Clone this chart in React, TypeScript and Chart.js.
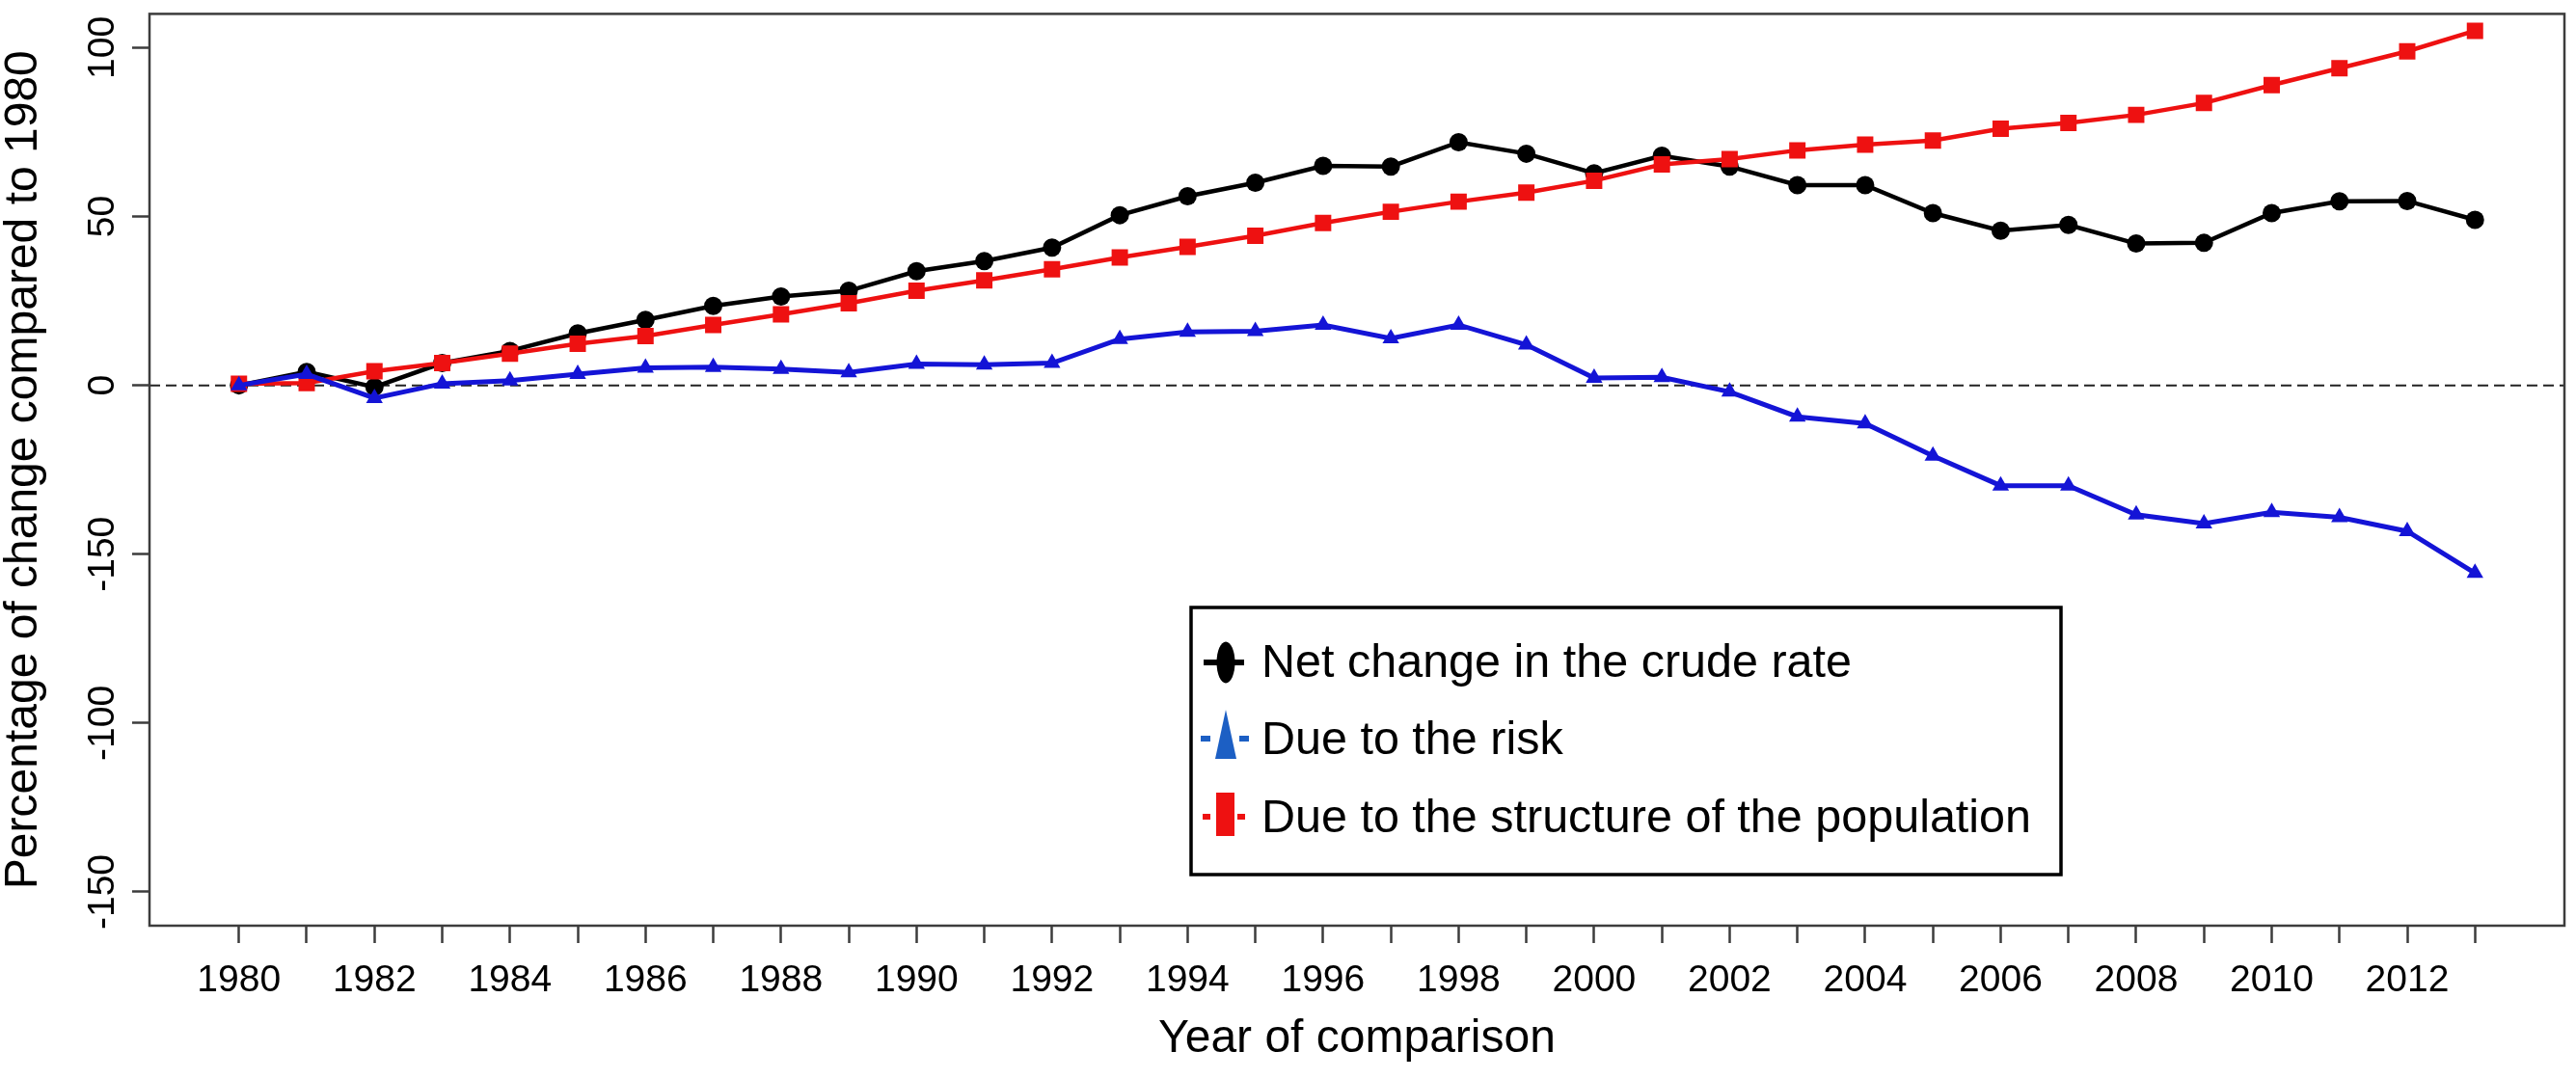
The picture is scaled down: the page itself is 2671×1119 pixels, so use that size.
import React, { useEffect, useRef } from 'react';
import { Chart, registerables } from 'chart.js';

Chart.register(...registerables);

const years = [1980, 1981, 1982, 1983, 1984, 1985, 1986, 1987, 1988, 1989, 1990, 1991, 1992, 1993, 1994, 1995, 1996, 1997, 1998, 1999, 2000, 2001, 2002, 2003, 2004, 2005, 2006, 2007, 2008, 2009, 2010, 2011, 2012, 2013];

const netChange = [0, 4.0, -0.5, 6.6, 10.2, 15.4, 19.4, 23.5, 26.3, 28.0, 33.8, 36.8, 40.8, 50.4, 56.0, 60.0, 65.0, 64.8, 72.0, 68.6, 62.8, 68.0, 64.8, 59.3, 59.3, 51.0, 45.8, 47.5, 42.0, 42.2, 51.0, 54.5, 54.6, 49.0];

const dueToRisk = [0, 3.3, -3.8, 0.5, 1.4, 3.3, 5.2, 5.4, 4.8, 3.8, 6.3, 6.1, 6.6, 13.7, 15.8, 16.0, 17.9, 13.9, 17.9, 12.0, 2.2, 2.4, -1.9, -9.3, -11.3, -20.9, -29.7, -29.7, -38.3, -40.9, -37.6, -39.1, -43.2, -55.6];

const dueToStructure = [0.5, 0.7, 4.2, 6.6, 9.4, 12.3, 14.6, 17.9, 21.0, 24.3, 28.0, 31.1, 34.4, 37.9, 41.0, 44.3, 48.1, 51.4, 54.4, 57.1, 60.6, 65.4, 67.0, 69.6, 71.3, 72.5, 76.0, 77.7, 80.1, 83.6, 88.9, 93.9, 98.9, 105.0];

const xTickLabels = ['1980', '', '1982', '', '1984', '', '1986', '', '1988', '', '1990', '', '1992', '', '1994', '', '1996', '', '1998', '', '2000', '', '2002', '', '2004', '', '2006', '', '2008', '', '2010', '', '2012', ''];

const yTickValues = [-150, -100, -50, 0, 50, 100];
const yTickLabels = ['-150', '-100', '-150', '0', '50', '100'];

const seriesLabels = ['Net change in the crude rate', 'Due to the risk', 'Due to the structure of the population'];
const xTitle = 'Year of comparison';
const yTitle = 'Percentage of change compared to 1980';

const FONT = "'Liberation Sans', Arial, Helvetica, sans-serif";

const frameAndZeroLine = {
  id: 'frameAndZeroLine',
  beforeDatasetsDraw(chart: any) {
    const { ctx, chartArea, scales } = chart;
    const y0 = scales.y.getPixelForValue(0);
    ctx.save();
    ctx.strokeStyle = '#222222';
    ctx.lineWidth = 2;
    ctx.setLineDash([11, 6]);
    ctx.beginPath();
    ctx.moveTo(chartArea.left, y0);
    ctx.lineTo(chartArea.right, y0);
    ctx.stroke();
    ctx.restore();
  },
  afterDraw(chart: any) {
    const { ctx, chartArea } = chart;
    ctx.save();
    ctx.strokeStyle = '#3c3c3c';
    ctx.lineWidth = 2.5;
    ctx.strokeRect(chartArea.left, chartArea.top, chartArea.right - chartArea.left, chartArea.bottom - chartArea.top);
    ctx.restore();
  },
};

const boxLegend = {
  id: 'boxLegend',
  afterDraw(chart: any) {
    const { ctx } = chart;
    const ds = chart.data.datasets;
    const left = 1235, top = 630, right = 2137, bottom = 907;
    ctx.save();
    ctx.fillStyle = '#ffffff';
    ctx.fillRect(left, top, right - left, bottom - top);
    ctx.strokeStyle = '#000000';
    ctx.lineWidth = 3.5;
    ctx.strokeRect(left, top, right - left, bottom - top);

    const baselines = [702, 782, 863];
    const centers = [687, 766, 847];
    const gx = 1271;

    // glyph 1: black line with tall ellipse
    ctx.fillStyle = ds[0].borderColor;
    ctx.strokeStyle = ds[0].borderColor;
    ctx.lineWidth = 6;
    ctx.beginPath();
    ctx.moveTo(gx - 23, centers[0]);
    ctx.lineTo(gx + 19, centers[0]);
    ctx.stroke();
    ctx.beginPath();
    ctx.ellipse(gx, centers[0], 9.5, 21.5, 0, 0, Math.PI * 2);
    ctx.fill();

    // glyph 2: blue dashes with tall triangle
    const legendBlue = '#1c5fc4';
    ctx.fillStyle = legendBlue;
    ctx.fillRect(gx - 26, centers[1] - 3, 10, 6);
    ctx.fillRect(gx + 14, centers[1] - 3, 10, 6);
    ctx.beginPath();
    ctx.moveTo(gx, centers[1] - 30);
    ctx.lineTo(gx + 11, centers[1] + 21);
    ctx.lineTo(gx - 11, centers[1] + 21);
    ctx.closePath();
    ctx.fill();

    // glyph 3: red dashes with tall rectangle
    ctx.fillStyle = ds[2].borderColor;
    ctx.fillRect(gx - 24, centers[2] - 3, 8, 6);
    ctx.fillRect(gx + 12, centers[2] - 3, 8, 6);
    ctx.fillRect(gx - 10, centers[2] - 25, 19, 45);

    ctx.fillStyle = '#000000';
    ctx.font = `48.5px ${FONT}`;
    ctx.textAlign = 'left';
    ctx.textBaseline = 'alphabetic';
    ds.forEach((d: any, i: number) => {
      ctx.fillText(d.label, 1308, baselines[i]);
    });
    ctx.restore();
  },
};

export default function App() {
  const canvasRef = useRef<HTMLCanvasElement | null>(null);

  useEffect(() => {
    const canvas = canvasRef.current;
    if (!canvas) return;
    Chart.defaults.font.family = FONT;

    const toPoints = (vals: number[]) => years.map((yr, i) => ({ x: yr, y: vals[i] }));

    const chart = new Chart(canvas, {
      type: 'line',
      data: {
        datasets: [
          {
            label: seriesLabels[0],
            data: toPoints(netChange),
            borderColor: '#000000',
            backgroundColor: '#000000',
            borderWidth: 4.5,
            pointStyle: 'circle',
            pointRadius: 9.5,
            pointBorderWidth: 0,
            pointBackgroundColor: '#000000',
            tension: 0,
            order: 3,
          },
          {
            label: seriesLabels[1],
            data: toPoints(dueToRisk),
            borderColor: '#1414d6',
            backgroundColor: '#1414d6',
            borderWidth: 5,
            pointStyle: 'triangle',
            pointRadius: 10,
            pointBorderWidth: 0,
            pointBackgroundColor: '#1414d6',
            tension: 0,
            order: 1,
          },
          {
            label: seriesLabels[2],
            data: toPoints(dueToStructure),
            borderColor: '#ee1111',
            backgroundColor: '#ee1111',
            borderWidth: 4.5,
            pointStyle: 'rect',
            pointRadius: 12,
            pointBorderWidth: 0,
            pointBackgroundColor: '#ee1111',
            tension: 0,
            order: 2,
          },
        ],
      },
      options: {
        animation: false,
        responsive: false,
        devicePixelRatio: 1,
        layout: { padding: { top: 5, right: 5, left: 0, bottom: 0 } },
        plugins: {
          legend: { display: false },
          tooltip: { enabled: false },
        },
        scales: {
          x: {
            type: 'linear',
            position: 'bottom',
            min: 1978.68,
            max: 2014.32,
            afterBuildTicks: (s: any) => {
              s.ticks = years.map((v) => ({ value: v }));
            },
            afterFit: (s: any) => {
              s.height = 159;
            },
            border: { display: false },
            grid: {
              drawOnChartArea: false,
              drawTicks: true,
              tickLength: 18,
              tickWidth: 2.5,
              tickColor: '#3c3c3c',
            },
            ticks: {
              autoSkip: false,
              minRotation: 0,
              maxRotation: 0,
              padding: 16,
              color: '#000000',
              font: { size: 39, family: FONT },
              callback: (v: any) => xTickLabels[years.indexOf(Number(v))],
            },
            title: {
              display: true,
              text: xTitle,
              color: '#000000',
              font: { size: 48, family: FONT },
              padding: { top: 0, bottom: 12 },
            },
          },
          y: {
            type: 'linear',
            position: 'left',
            min: -160,
            max: 110,
            afterBuildTicks: (s: any) => {
              s.ticks = yTickValues.map((v) => ({ value: v }));
            },
            afterFit: (s: any) => {
              s.width = 155;
            },
            border: { display: false },
            grid: {
              drawOnChartArea: false,
              drawTicks: true,
              tickLength: 18,
              tickWidth: 2.5,
              tickColor: '#3c3c3c',
            },
            ticks: {
              minRotation: 90,
              maxRotation: 90,
              crossAlign: 'center',
              padding: -9,
              color: '#000000',
              font: { size: 39, family: FONT },
              callback: (v: any) => yTickLabels[yTickValues.indexOf(Number(v))],
            },
            title: {
              display: true,
              text: yTitle,
              color: '#000000',
              font: { size: 48, family: FONT, lineHeight: 1 },
              padding: { top: 1, bottom: 0 },
            },
          },
        },
      },
      plugins: [frameAndZeroLine, boxLegend],
    } as any);

    return () => {
      chart.destroy();
    };
  }, []);

  return (
    <div style={{ position: 'absolute', left: 0, top: 0, width: 2671, height: 1119, overflow: 'hidden', background: '#ffffff' }}>
      <canvas ref={canvasRef} width={2671} height={1119} style={{ display: 'block', width: 2671, height: 1119 }} />
    </div>
  );
}
